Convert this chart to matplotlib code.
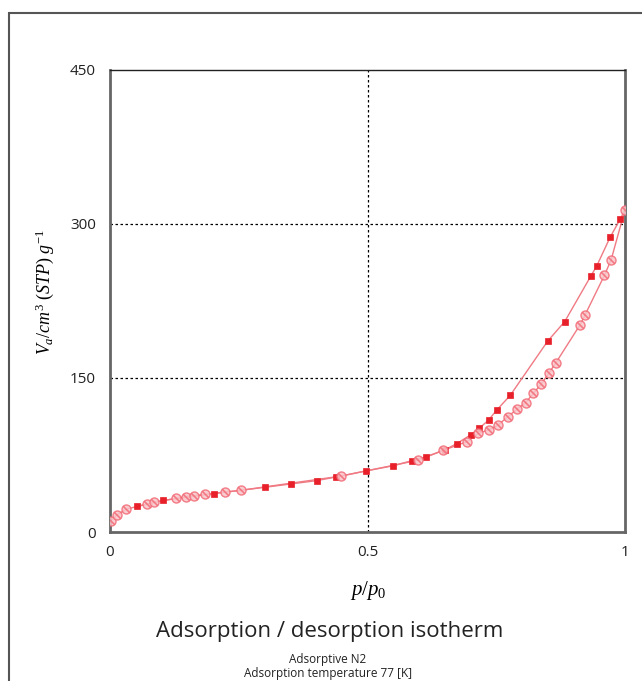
import numpy as np
import matplotlib
matplotlib.use('Agg')
import matplotlib.pyplot as plt
from matplotlib.patches import Rectangle

plt.rcParams['font.family'] = ['Open Sans', 'DejaVu Sans']
plt.rcParams['mathtext.fontset'] = 'custom'
plt.rcParams['mathtext.it'] = 'Liberation Serif:italic'
plt.rcParams['mathtext.rm'] = 'Liberation Serif'

# adsorption branch (open markers)
ads_p = [0.002, 0.013, 0.032, 0.072, 0.086, 0.129, 0.147, 0.163, 0.185, 0.223, 0.254,
         0.449, 0.599, 0.647, 0.693, 0.715, 0.735, 0.753, 0.773, 0.791, 0.807, 0.822,
         0.837, 0.852, 0.866, 0.913, 0.922, 0.960, 0.973, 1.000]
ads_v = [11, 16.5, 22.3, 27.2, 29, 32.8, 34.5, 35.5, 36.7, 39, 40.6,
         54.5, 70, 79.5, 88, 96, 99.5, 104, 112.5, 120, 126, 135,
         144, 154.6, 165, 202, 211, 250, 265, 314]
# desorption branch (filled markers), starts from top of adsorption
des_p = [1.000, 0.991, 0.971, 0.945, 0.934, 0.883, 0.850, 0.777, 0.751, 0.735, 0.717,
         0.700, 0.673, 0.650, 0.614, 0.586, 0.550, 0.497, 0.439, 0.401, 0.351, 0.300,
         0.201, 0.102, 0.053]
des_v = [314, 305, 287, 259, 249.6, 205, 186, 133, 118.8, 109, 101,
         94.5, 86, 80, 73.4, 69.5, 64.5, 59.5, 53.6, 50, 46.8, 43.5,
         37.3, 30.7, 25]

xticks = [0, 0.5, 1]
xticklabels = ['0', '0.5', '1']
yticks = [0, 150, 300, 450]

fig = plt.figure(figsize=(6.42, 6.81), dpi=100)
# outer frame (cropped)
fig.patches.append(Rectangle((8.5 / 642, -0.1), 1.2, 1 - 13 / 681 + 0.1, transform=fig.transFigure,
                             fill=False, ec='#555555', lw=1.5))
ax = fig.add_axes([110 / 642, 1 - 532 / 681, 515 / 642, 462 / 681])

red = '#e8202a'
pink = '#f07a84'
ax.plot(des_p, des_v, '-', color=pink, lw=1.0, zorder=2)
ax.plot(ads_p, ads_v, '-', color=pink, lw=1.0, zorder=2)
ax.plot(des_p[1:], des_v[1:], 's', ms=5, mfc=red, mec=red, mew=0.5, ls='none', zorder=3)
ax.plot(ads_p, ads_v, 'o', ms=6.5, mfc='#f8c4c8', mec='#f26a76', mew=1.0, ls='none',
        alpha=0.85, zorder=4)
ax.plot(ads_p, ads_v, marker=(2, 2, 45), ms=6, mec='#f26a76', mew=0.8, ls='none',
        alpha=0.85, zorder=5)

ax.set_xlim(0, 1)
ax.set_ylim(0, 450)
ax.set_xticks(xticks)
ax.set_xticklabels(xticklabels)
ax.set_yticks(yticks)
ax.tick_params(length=0, labelsize=11, colors='#222222', pad=9)
ax.tick_params(axis='y', pad=10)
for y in [150, 300]:
    ax.axhline(y, color='black', lw=0.9, ls=(0, (2, 2)), zorder=1)
ax.axvline(0.5, color='black', lw=0.9, ls=(0, (2, 2)), zorder=1)

for s in ['left', 'bottom', 'right']:
    ax.spines[s].set_color('#666666')
    ax.spines[s].set_linewidth(2)
ax.spines['top'].set_color('#222222')
ax.spines['top'].set_linewidth(1)

fig.text(45 / 642, 1 - 292 / 681, r'$V_a/cm^3\ (STP)\ g^{-1}$', rotation=90,
         ha='center', va='center', fontsize=13)
fig.text(368 / 642, 1 - 590 / 681, r'$p/p_{\mathit{0}}$', ha='center', va='center', fontsize=15)
fig.text(330 / 642, 1 - 631 / 681, 'Adsorption / desorption isotherm', ha='center', va='center',
         fontsize=16, color='#222222')
fig.text(328 / 642, 1 - 659 / 681, 'Adsorptive N2', ha='center', va='center', fontsize=8.5,
         color='#222222')
fig.text(328 / 642, 1 - 674 / 681, 'Adsorption temperature 77 [K]', ha='center', va='center',
         fontsize=8.5, color='#222222')

fig.savefig('out.png', dpi=100)
